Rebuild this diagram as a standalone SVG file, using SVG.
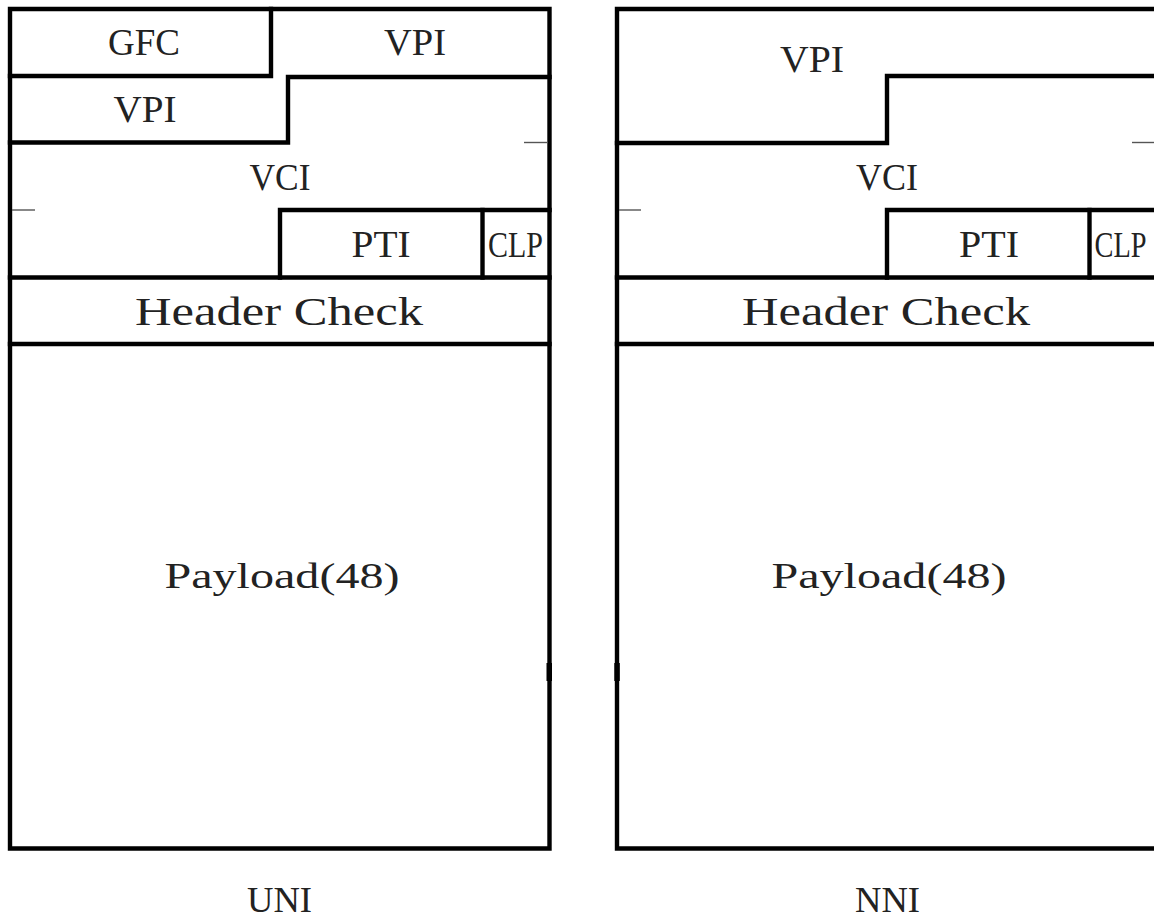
<svg xmlns="http://www.w3.org/2000/svg" width="1154" height="920" viewBox="0 0 1154 920">
<style>
.ln{fill:none;stroke:#000;stroke-width:4.4;stroke-linejoin:miter;stroke-linecap:square}
.tk{fill:none;stroke:#555;stroke-width:1.4}
.t{font-family:"Liberation Serif",serif;font-size:37px;fill:#222;text-anchor:middle}
.hc{font-size:40px}
.pl{font-size:35px}
.cp{font-size:36px}
.lb{font-size:36px}
</style>
<rect width="1154" height="920" fill="#fff"/>
<g id="connectors">
<path class="ln" d="M10,9 H549.5 V848.5 H10 Z"/>
<path class="ln" d="M271,9 V76 H10"/>
<path class="ln" d="M549.5,77 H288 V142.5 H10"/>
<path class="ln" d="M549.5,210 H280 V277.5"/>
<path class="ln" d="M482.5,210 V277.5"/>
<path class="ln" d="M10,277.5 H549.5"/>
<path class="ln" d="M10,344 H549.5"/>
<path class="tk" d="M524,142.5 H548"/>
<path class="tk" d="M12,210 H35"/>
<rect x="546.5" y="663" width="5.5" height="18" fill="#000"/>
<path class="ln" d="M1160,9 H617 V848.5 H1160"/>
<path class="ln" d="M1160,76 H887 V143 H617"/>
<path class="ln" d="M1160,210 H887 V277.5"/>
<path class="ln" d="M1089.5,210 V277.5"/>
<path class="ln" d="M617,277.5 H1160"/>
<path class="ln" d="M617,344 H1160"/>
<path class="tk" d="M1132,142.5 H1154"/>
<path class="tk" d="M619,210 H641"/>
<rect x="614.3" y="663" width="5.5" height="18" fill="#000"/>
</g>
<g id="uni-gfc"><text class="t" x="144" y="55" textLength="72" lengthAdjust="spacingAndGlyphs">GFC</text></g>
<g id="uni-vpi1"><text class="t" x="415" y="55" textLength="62" lengthAdjust="spacingAndGlyphs">VPI</text></g>
<g id="uni-vpi2"><text class="t" x="145" y="122" textLength="63" lengthAdjust="spacingAndGlyphs">VPI</text></g>
<g id="uni-vci"><text class="t" x="280" y="190" textLength="61" lengthAdjust="spacingAndGlyphs">VCI</text></g>
<g id="uni-pti"><text class="t" x="381" y="257" textLength="59" lengthAdjust="spacingAndGlyphs">PTI</text></g>
<g id="uni-clp"><text class="t cp" x="515.5" y="257" textLength="55" lengthAdjust="spacingAndGlyphs">CLP</text></g>
<g id="uni-hec"><text class="t hc" x="279" y="325" textLength="288" lengthAdjust="spacingAndGlyphs">Header Check</text></g>
<g id="uni-payload"><text class="t pl" x="282" y="588" textLength="235" lengthAdjust="spacingAndGlyphs">Payload(48)</text></g>
<g id="uni-label"><text class="t lb" x="279.5" y="912" textLength="65" lengthAdjust="spacingAndGlyphs">UNI</text></g>
<g id="nni-vpi"><text class="t" x="812" y="72" textLength="64" lengthAdjust="spacingAndGlyphs">VPI</text></g>
<g id="nni-vci"><text class="t" x="887" y="190" textLength="62" lengthAdjust="spacingAndGlyphs">VCI</text></g>
<g id="nni-pti"><text class="t" x="989" y="257" textLength="60" lengthAdjust="spacingAndGlyphs">PTI</text></g>
<g id="nni-clp"><text class="t cp" x="1120.5" y="257" textLength="52" lengthAdjust="spacingAndGlyphs">CLP</text></g>
<g id="nni-hec"><text class="t hc" x="886" y="325" textLength="288" lengthAdjust="spacingAndGlyphs">Header Check</text></g>
<g id="nni-payload"><text class="t pl" x="889" y="588" textLength="235" lengthAdjust="spacingAndGlyphs">Payload(48)</text></g>
<g id="nni-label"><text class="t lb" x="887.5" y="912" textLength="65" lengthAdjust="spacingAndGlyphs">NNI</text></g>
</svg>
